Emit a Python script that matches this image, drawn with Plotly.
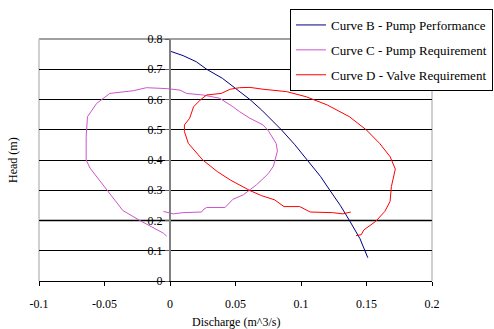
import plotly.graph_objects as go

# ---- data ----
curve_b_x = [0, 0.01, 0.02, 0.028, 0.04, 0.05, 0.061, 0.07, 0.085, 0.095, 0.105, 0.115, 0.122, 0.13, 0.137, 0.145, 0.151]
curve_b_y = [0.76, 0.745, 0.725, 0.70, 0.67, 0.637, 0.60, 0.565, 0.50, 0.452, 0.40, 0.345, 0.30, 0.25, 0.20, 0.14, 0.077]

curve_c_x = [-0.005, 0.0025, 0.010, 0.024, 0.026, 0.028, 0.042, 0.044, 0.048, 0.056, 0.061, 0.066, 0.070, 0.075,
             0.079, 0.081, 0.082, 0.081, 0.078, 0.075, 0.071, 0.061, 0.053, 0.048, 0.038, 0.025, 0.0127, 0.0076,
             -0.0025, -0.018, -0.028, -0.046, -0.056, -0.063, -0.064, -0.064, -0.061, -0.048, -0.036, -0.023,
             -0.014, -0.005, -0.0025]
curve_c_y = [0.230, 0.222, 0.226, 0.228, 0.238, 0.243, 0.243, 0.252, 0.270, 0.285, 0.300, 0.318, 0.334, 0.355,
             0.380, 0.410, 0.430, 0.455, 0.477, 0.497, 0.516, 0.538, 0.560, 0.576, 0.604, 0.615, 0.620, 0.631,
             0.636, 0.639, 0.629, 0.620, 0.587, 0.543, 0.477, 0.400, 0.373, 0.300, 0.233, 0.200,
             0.180, 0.158, 0.148]

curve_d_x = [0.138, 0.132, 0.124, 0.107, 0.099, 0.087, 0.080, 0.070, 0.061, 0.053, 0.046, 0.036, 0.025, 0.014,
             0.011, 0.011, 0.015, 0.018, 0.023, 0.028, 0.039, 0.046, 0.053, 0.061, 0.071, 0.089, 0.104, 0.120,
             0.137, 0.150, 0.160, 0.168, 0.172, 0.169, 0.168, 0.164, 0.157, 0.148, 0.146, 0.142]
curve_d_y = [0.228, 0.222, 0.226, 0.228, 0.246, 0.246, 0.268, 0.282, 0.299, 0.318, 0.334, 0.362, 0.400, 0.455,
             0.494, 0.516, 0.538, 0.576, 0.598, 0.615, 0.620, 0.634, 0.639, 0.640, 0.634, 0.626, 0.609, 0.582,
             0.543, 0.499, 0.455, 0.411, 0.370, 0.312, 0.263, 0.230, 0.197, 0.169, 0.153, 0.150]

series_names = ["Curve B - Pump Performance", "Curve C - Pump Requirement", "Curve D - Valve Requirement"]
x_tick_vals = [-0.1, -0.05, 0, 0.05, 0.1, 0.15, 0.2]
x_tick_text = ["-0.1", "-0.05", "0", "0.05", "0.1", "0.15", "0.2"]
y_tick_vals = [0, 0.1, 0.2, 0.3, 0.4, 0.5, 0.6, 0.7, 0.8]
y_tick_text = ["0", "0.1", "0.2", "0.3", "0.4", "0.5", "0.6", "0.7", "0.8"]

FONT = "Liberation Serif"
colors = ["#000080", "#CC55CC", "#FF0000"]

fig = go.Figure()
for i, (xs, ys) in enumerate([(curve_b_x, curve_b_y), (curve_c_x, curve_c_y), (curve_d_x, curve_d_y)]):
    fig.add_trace(go.Scatter(x=xs, y=ys, mode="lines", name=series_names[i],
                             legendgroup=f"g{i}",
                             line=dict(color=colors[i], width=1)))

fig.update_layout(
    width=494, height=329,
    margin=dict(l=39, r=62, t=39, b=48, autoexpand=False),
    paper_bgcolor="white", plot_bgcolor="white",
    font=dict(family=FONT, size=12, color="black"),
    showlegend=True,
    legend=dict(x=(493 - 39) / 393, xanchor="right", y=(281 - 9) / 242, yanchor="top",
                bordercolor="black", borderwidth=1, bgcolor="white",
                font=dict(family=FONT, size=13, color="black"),
                tracegroupgap=5),
    xaxis=dict(range=[-0.1, 0.2], tickvals=x_tick_vals, ticktext=x_tick_text,
               showgrid=False, zeroline=False, showline=True, linecolor="black", linewidth=1,
               ticks="outside", ticklen=4, tickcolor="black", ticklabelstandoff=8,
               tickfont=dict(family=FONT, size=12, color="black")),
    yaxis=dict(range=[0, 0.8], tickvals=y_tick_vals, ticktext=y_tick_text,
               anchor="free", position=1 / 3,
               showgrid=True, gridcolor="black", gridwidth=1, zeroline=False,
               showline=True, linecolor="#808080", linewidth=2,
               ticks="outside", ticklen=4, tickcolor="#606060",
               tickfont=dict(family=FONT, size=12, color="black")),
    annotations=[
        dict(text="Discharge (m^3/s)", xref="paper", yref="paper", x=0.5, y=(281 - 322) / 242,
             xanchor="center", yanchor="middle", showarrow=False, font=dict(family=FONT, size=12)),
        dict(text="Head (m)", xref="paper", yref="paper", x=(13 - 39) / 393, y=0.5, textangle=-90,
             xanchor="center", yanchor="middle", showarrow=False, font=dict(family=FONT, size=12)),
    ],
    shapes=[
        dict(type="line", xref="paper", yref="y", x0=0, x1=1, y0=0.2, y1=0.2,
             line=dict(color="#808080", width=2), layer="below"),
        dict(type="line", xref="paper", yref="paper", x0=0, x1=1, y0=1, y1=1,
             line=dict(color="#808080", width=1.5), layer="below"),
        dict(type="line", xref="paper", yref="paper", x0=0, x1=0, y0=0, y1=1,
             line=dict(color="#C0C0C0", width=1.5), layer="below"),
        dict(type="line", xref="paper", yref="paper", x0=1, x1=1, y0=0, y1=1,
             line=dict(color="#C0C0C0", width=1.5), layer="below"),
    ],
)

fig.write_html("out.html", config={"displayModeBar": False},
               post_script="document.body.style.margin='0';document.body.style.overflow='hidden';")
